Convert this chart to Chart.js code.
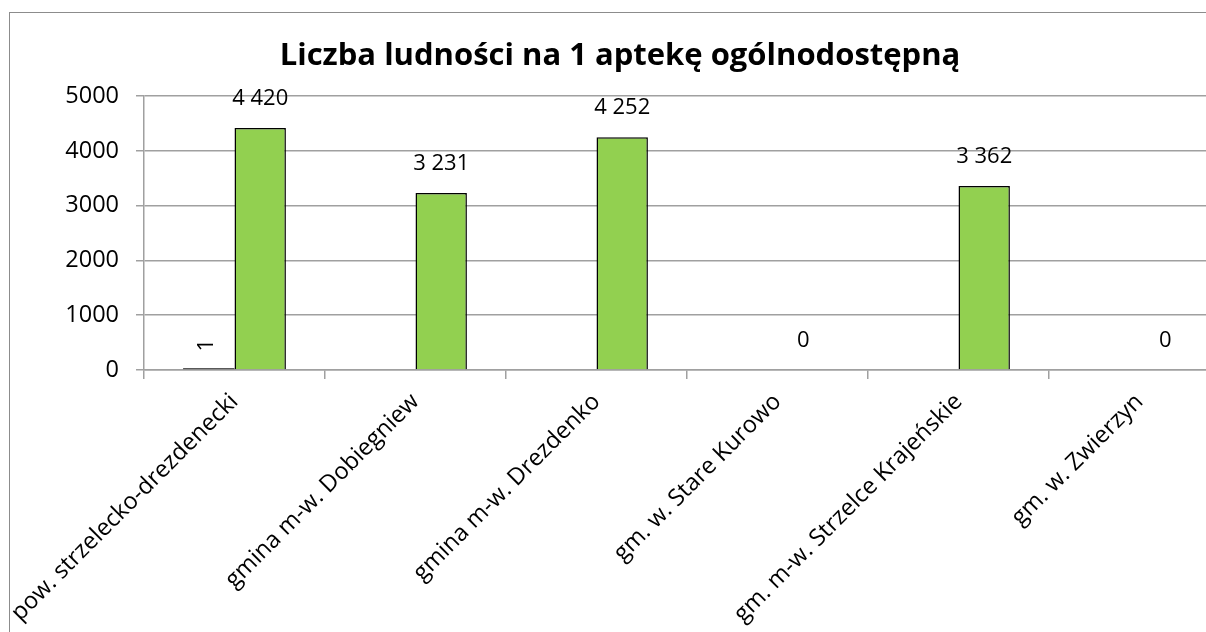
<!DOCTYPE html>
<html>
<head>
<meta charset="utf-8">
<script src="https://cdn.jsdelivr.net/npm/chart.js@4/dist/chart.umd.min.js"></script>
<style>
 html,body{margin:0;padding:0;background:#fff;overflow:hidden;width:1206px;height:632px;}
 #box{position:absolute;left:9px;top:12px;width:1240px;height:660px;border:1.5px solid #8c8c8c;background:#fff;}
 canvas{display:block;}
</style>
</head>
<body>
<div id="box"><canvas id="c" width="1240" height="660"></canvas></div>
<script>
const categories = [
 "pow. strzelecko-drezdenecki",
 "gmina m-w. Dobiegniew",
 "gmina m-w. Drezdenko",
 "gm. w. Stare Kurowo",
 "gm. m-w. Strzelce Krajeńskie",
 "gm. w. Zwierzyn"
];
const seriesA = [1, null, null, null, null, null];
const seriesB = [4420, 3231, 4252, 0, 3362, 0];
const yTicks = [0, 1000, 2000, 3000, 4000, 5000];

const FONT = "'Open Sans', 'Liberation Sans', sans-serif";

function fmt(v){
 return String(v).replace(/\B(?=(\d{3})+(?!\d))/g, " ");
}

/* value labels */
const valueLabels = {
 id:"valueLabels",
 afterDatasetsDraw(chart){
  const ctx = chart.ctx;
  ctx.save();
  ctx.font = "22px " + FONT;
  ctx.fillStyle = "#000";
  ctx.textAlign = "center";
  ctx.textBaseline = "middle";
  chart.getDatasetMeta(1).data.forEach((bar,i)=>{
    const v = seriesB[i];
    if(v === null) return;
    ctx.fillText(fmt(v), bar.x, bar.y - 29);
  });
  chart.getDatasetMeta(0).data.forEach((bar,i)=>{
    const v = seriesA[i];
    if(v === null) return;
    ctx.save();
    ctx.translate(bar.x - 2, bar.base - 24);
    ctx.rotate(-Math.PI/2);
    ctx.fillText(fmt(v), 0, 0);
    ctx.restore();
  });
  ctx.restore();
 }
};

new Chart(document.getElementById("c"),{
 type:"bar",
 data:{
  labels:categories,
  datasets:[
   {
    label:"A",
    data:seriesA,
    backgroundColor:"#595959",
    borderWidth:0,
    minBarLength:2,
    barPercentage:1,
    categoryPercentage:0.568
   },
   {
    label:"B",
    data:seriesB,
    backgroundColor:"#92d050",
    borderColor:"#000",
    borderWidth:1.5,
    barPercentage:1,
    categoryPercentage:0.568
   }
  ]
 },
 options:{
  responsive:false,
  animation:false,
  layout:{padding:{left:0,right:20,top:0,bottom:0}},
  plugins:{
   legend:{display:false},
   tooltip:{enabled:false},
   title:{
    display:true,
    text:"Liczba ludności na 1 aptekę ogólnodostępną",
    color:"#000",
    font:{family:FONT,size:31,weight:"bold",lineHeight:1.2},
    padding:{top:25,bottom:21}
   }
  },
  scales:{
   x:{
    grid:{offset:true,drawOnChartArea:false,drawTicks:true,tickLength:9,color:"#a0a0a0",lineWidth:1.5},
    border:{color:"#a0a0a0",width:1.5},
    ticks:{
     color:"#000",
     font:{family:FONT,size:23.5},
     maxRotation:45,minRotation:45,
     autoSkip:false,
     padding:9
    },
    afterFit(s){ s.height = 660 - 357; s.paddingLeft = 0; s.paddingRight = 0; }
   },
   y:{
    min:0,max:5000,
    afterBuildTicks(s){ s.ticks = yTicks.map(v=>({value:v})); },
    grid:{color:"#a0a0a0",lineWidth:1.5,tickLength:8},
    border:{color:"#a0a0a0",width:1.5},
    ticks:{color:"#000",font:{family:FONT,size:23.5},padding:17,callback:v=>String(v)},
    afterFit(s){ s.width = 134; }
   }
  }
 },
 plugins:[valueLabels]
});
</script>
</body>
</html>
